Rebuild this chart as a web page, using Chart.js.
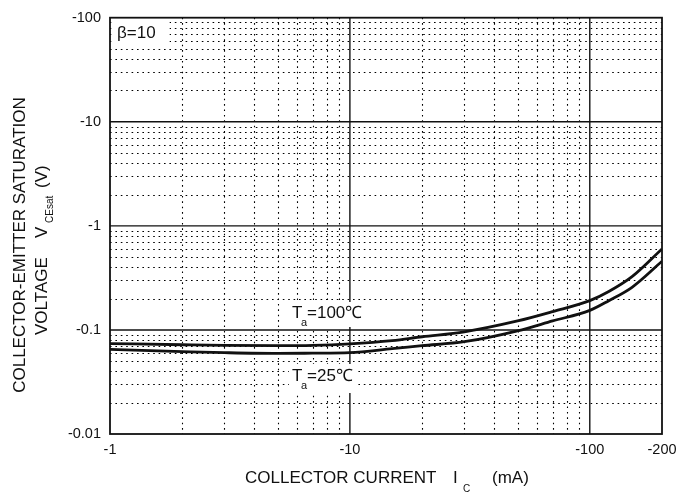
<!DOCTYPE html>
<html><head><meta charset="utf-8">
<script src="https://cdn.jsdelivr.net/npm/chart.js@4.4.1/dist/chart.umd.min.js"></script>
<style>html,body{margin:0;padding:0;background:#fff;}#wrap{width:687px;height:499px;}</style>
</head><body><div id="wrap"><canvas id="c" width="687" height="499"></canvas></div>
<script>
// ---- data ----
const currentMA = [1, 2, 3, 5, 7, 10, 15, 20, 30, 50, 70, 100, 120, 150, 200];
const vce100 = [0.074, 0.072, 0.071, 0.0705, 0.071, 0.0735, 0.079, 0.086, 0.096, 0.122, 0.150, 0.191, 0.234, 0.325, 0.60];
const vce25  = [0.065, 0.062, 0.0605, 0.0595, 0.0598, 0.0605, 0.066, 0.0705, 0.077, 0.098, 0.122, 0.154, 0.191, 0.257, 0.457];
const xTickValues = [1, 10, 100, 200];
const xTickLabels = ['-1', '-10', '-100', '-200'];
const yTickValues = [0.01, 0.1, 1, 10, 100];
const yTickLabels = ['-0.01', '-0.1', '-1', '-10', '-100'];
const xMajorGrid = [10, 100];
const xMinorGrid = [2, 3, 4, 5, 6, 7, 8, 9, 20, 30, 40, 50, 60, 70, 80, 90];
const yMajorGrid = [0.1, 1, 10];
const yMinorGrid = [0.02, 0.03, 0.04, 0.05, 0.06, 0.07, 0.08, 0.09,
                    0.2, 0.3, 0.4, 0.5, 0.6, 0.7, 0.8, 0.9,
                    2, 3, 4, 5, 6, 7, 8, 9,
                    20, 30, 40, 50, 60, 70, 80, 90];

const FONT = "'Liberation Sans', Arial, sans-serif";
const INK = '#111';

const gridPlugin = {
  id: 'gridPlugin',
  beforeDatasetsDraw(chart) {
    const {ctx, chartArea: a, scales: {x, y}} = chart;
    ctx.save();
    ctx.strokeStyle = '#000';
    ctx.lineWidth = 1.1;
    ctx.setLineDash([1.6, 3.8]);
    xMinorGrid.forEach(v => {
      const px = Math.round(x.getPixelForValue(v)) + 0.5;
      ctx.beginPath(); ctx.moveTo(px, a.top); ctx.lineTo(px, a.bottom); ctx.stroke();
    });
    yMinorGrid.forEach(v => {
      const py = Math.round(y.getPixelForValue(v)) + 0.5;
      ctx.beginPath(); ctx.moveTo(a.left, py); ctx.lineTo(a.right, py); ctx.stroke();
    });
    ctx.setLineDash([]);
    ctx.lineWidth = 1.4;
    ctx.strokeStyle = INK;
    xMajorGrid.forEach(v => {
      const px = x.getPixelForValue(v);
      ctx.beginPath(); ctx.moveTo(px, a.top); ctx.lineTo(px, a.bottom); ctx.stroke();
    });
    yMajorGrid.forEach(v => {
      const py = y.getPixelForValue(v);
      ctx.beginPath(); ctx.moveTo(a.left, py); ctx.lineTo(a.right, py); ctx.stroke();
    });
    ctx.restore();
  },
  afterDatasetsDraw(chart) {
    const {ctx, chartArea: a} = chart;
    ctx.save();
    ctx.strokeStyle = INK;
    ctx.lineWidth = 1.8;
    ctx.strokeRect(a.left, a.top, a.right - a.left, a.bottom - a.top);
    // label backgrounds
    ctx.fillStyle = '#fff';
    ctx.fillRect(a.left + 1.5, 19, 58, 28);
    ctx.fillRect(289, 302, 75, 25);
    ctx.fillRect(289, 364, 68, 29);
    ctx.fillStyle = INK;
    ctx.textBaseline = 'middle';
    ctx.textAlign = 'left';
    ctx.font = '17px ' + FONT;
    ctx.fillText('β=10', 117, 33);
    ctx.fillText('T', 292, 313);
    ctx.fillText('=100℃', 307, 313);
    ctx.fillText('T', 292, 376);
    ctx.fillText('=25℃', 307, 376);
    ctx.font = '11px ' + FONT;
    ctx.fillText('a', 301, 323);
    ctx.fillText('a', 301, 386);
    ctx.restore();
  },
  afterDraw(chart) {
    const {ctx} = chart;
    ctx.save();
    ctx.fillStyle = INK;
    ctx.textBaseline = 'middle';
    ctx.textAlign = 'left';
    ctx.font = '17px ' + FONT;
    ctx.fillText('COLLECTOR CURRENT', 245, 478);
    ctx.fillText('I', 453, 478);
    ctx.fillText('(mA)', 492, 478);
    ctx.font = '10px ' + FONT;
    ctx.fillText('C', 463, 489);
    ctx.save();
    ctx.translate(20, 245);
    ctx.rotate(-Math.PI / 2);
    ctx.textAlign = 'center';
    ctx.font = '17px ' + FONT;
    ctx.fillText('COLLECTOR-EMITTER SATURATION', 0, 0);
    ctx.restore();
    ctx.save();
    ctx.translate(42, 335);
    ctx.rotate(-Math.PI / 2);
    ctx.textAlign = 'left';
    ctx.font = '17px ' + FONT;
    ctx.fillText('VOLTAGE', 0, 0);
    ctx.fillText('V', 97, 0);
    ctx.fillText('(V)', 147, 0);
    ctx.font = '10px ' + FONT;
    ctx.fillText('CEsat', 112, 8);
    ctx.restore();
    ctx.restore();
  }
};

const mk = (ys) => currentMA.map((v, i) => ({x: v, y: ys[i]}));

new Chart(document.getElementById('c'), {
  type: 'scatter',
  data: {
    datasets: [
      {label: 'Ta=100℃', data: mk(vce100), showLine: true, borderColor: INK, borderWidth: 2.8, pointRadius: 0, cubicInterpolationMode: 'monotone', fill: false},
      {label: 'Ta=25℃', data: mk(vce25), showLine: true, borderColor: INK, borderWidth: 2.8, pointRadius: 0, cubicInterpolationMode: 'monotone', fill: false}
    ]
  },
  options: {
    responsive: false,
    animation: false,
    devicePixelRatio: 1,
    layout: {padding: {top: 12, right: 25, left: 0, bottom: 0}},
    plugins: {legend: {display: false}, tooltip: {enabled: false}},
    scales: {
      x: {
        type: 'logarithmic', min: 1, max: 200, position: 'bottom',
        grid: {display: false, drawTicks: false}, border: {display: false},
        afterBuildTicks: s => { s.ticks = xTickValues.map(v => ({value: v})); },
        afterFit: s => { s.height = 65; },
        ticks: {
          font: {family: FONT, size: 14.5}, color: INK, padding: 7,
          maxRotation: 0, autoSkip: false,
          callback: (v) => { const i = xTickValues.indexOf(v); return i >= 0 ? xTickLabels[i] : ''; }
        }
      },
      y: {
        type: 'logarithmic', min: 0.01, max: 100,
        grid: {display: false, drawTicks: false}, border: {display: false},
        afterBuildTicks: s => { s.ticks = yTickValues.map(v => ({value: v})); },
        afterFit: s => { s.width = 110; },
        ticks: {
          font: {family: FONT, size: 14.5}, color: INK, padding: 9,
          autoSkip: false,
          callback: (v) => { const i = yTickValues.indexOf(v); return i >= 0 ? yTickLabels[i] : ''; }
        }
      }
    }
  },
  plugins: [gridPlugin]
});
</script>
</body></html>
